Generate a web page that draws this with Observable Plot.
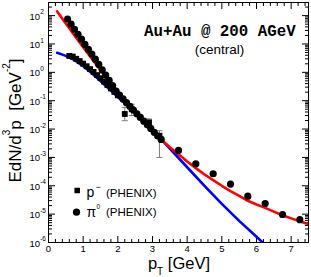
<!DOCTYPE html>
<html><head><meta charset="utf-8">
<script src="https://cdn.jsdelivr.net/npm/d3@7"></script>
<script src="https://cdn.jsdelivr.net/npm/@observablehq/plot@0.6"></script>
<style>
html,body{margin:0;padding:0;background:#fff;}
#wrap{position:relative;width:311px;height:277px;}
</style></head><body><div id="wrap"></div>
<script>
// theory curves
const piCurvePt = [0.25,0.5,0.75,1.0,1.25,1.5,1.75,2.0,2.25,2.5,2.75,3.0,3.25,3.5,3.75,4.0,4.25,4.5,4.75,5.0,5.25,5.5,5.75,6.0,6.25,6.5,6.75,7.0,7.25,7.5];
const piCurveVal = [141,52.5,20,7.6,3.0,1.2,0.50,0.204,0.091,0.042,0.019,0.0089,0.0043,0.0023,0.00129,0.00072,0.00042,0.00025,0.000158,0.0001,6.5e-5,4.4e-5,2.95e-5,2.19e-5,1.66e-5,1.23e-5,9.1e-6,7.1e-6,5.6e-6,4.4e-6];
const pbarCurvePt = [0.25,0.5,0.75,1.0,1.25,1.5,1.75,2.0,2.25,2.5,2.75,3.0,3.25,3.5,4.0,4.5,5.0,5.5,6.0,6.25];
const pbarCurveVal = [4.9,3.8,2.7,1.66,0.93,0.49,0.257,0.135,0.072,0.037,0.0186,0.0091,0.0044,0.00204,0.00045,0.0001,2.3e-5,5.8e-6,1.6e-6,8.3e-7];
// PHENIX pi0
const piPt = [0.55,0.65,0.75,0.85,0.95,1.05,1.15,1.25,1.35,1.45,1.55,1.65,1.75,1.85,1.95,2.05,2.15,2.25,2.35,2.45,2.55,2.65,2.75,2.85,2.95,3.05,3.15,3.25,3.75,4.25,4.75,5.25,5.75,6.25,6.75,7.25];
const piVal = [76,50,33,22,14.8,9.7,6.5,4.4,2.9,1.9,1.22,0.80,0.52,0.34,0.22,0.156,0.115,0.085,0.063,0.047,0.0345,0.0257,0.019,0.0141,0.0105,0.0077,0.0057,0.0043,1.76e-3,5.97e-4,2.65e-4,1.15e-4,4.3e-5,2.37e-5,9.7e-6,6.4e-6];
// PHENIX pbar
const pbarPt = [0.6,0.7,0.8,0.9,1.0,1.1,1.2,1.3,1.4,1.5,1.6,1.7,1.8,1.9,2.0,2.2,2.4,2.9,3.2];
const pbarVal = [3.8,3.6,3.0,2.5,2.03,1.64,1.3,1.03,0.8,0.62,0.47,0.355,0.27,0.205,0.155,0.034,0.05,0.0171,0.0058];
const pbarErrPt = [2.2,2.4,2.9,3.2];
const pbarErrLo = [0.0197,0.03,0.012,0.001];
const pbarErrHi = [0.058,0.075,0.0226,0.0087];
// axes
const xTicks = [0,1,2,3,4,5,6,7];
const yExps = [-6,-5,-4,-3,-2,-1,0,1,2];

const piCurve = piCurvePt.map((p,i)=>({pt:p,v:piCurveVal[i]}));
const pbarCurve = pbarCurvePt.map((p,i)=>({pt:p,v:pbarCurveVal[i]}));
const pi = piPt.map((p,i)=>({pt:p,v:piVal[i]}));
const pbar = pbarPt.map((p,i)=>({pt:p,v:pbarVal[i]}));
const err = pbarErrPt.map((p,i)=>({pt:p,lo:pbarErrLo[i],hi:pbarErrHi[i]}));
const caps = err.flatMap(d=>[{pt:d.pt,v:d.lo},{pt:d.pt,v:d.hi}]);
const xMinor = d3.range(0,7.5001,0.2).map(v=>+v.toFixed(1)).filter(v=>!xTicks.includes(v));
const yMajor = yExps.map(e=>Math.pow(10,e));
const yMinor = [];
yExps.forEach(e=>{for(let k=2;k<=9;k++){const v=k*Math.pow(10,e); if(v<290) yMinor.push(v);}});
const capSymbol = {draw(ctx){ctx.moveTo(-3,0);ctx.lineTo(3,0);}};
const blank = ()=>"";

const svg = Plot.plot({
  width:311, height:277,
  marginLeft:48, marginRight:3, marginTop:2, marginBottom:35,
  x:{domain:[0,7.5]},
  y:{type:"log", domain:[1e-6,290]},
  style:{fontFamily:"'Liberation Sans', Arial, sans-serif", fontSize:"9.5px", color:"#000", background:"#fff", overflow:"visible"},
  marks:[
    Plot.axisX({ticks:xTicks, tickSize:-6, tickFormat:blank, label:null, anchor:"bottom"}),
    Plot.axisX({ticks:xMinor, tickSize:-3, tickFormat:blank, label:null, anchor:"bottom"}),
    Plot.axisX({ticks:xTicks, tickSize:-6, tickFormat:blank, label:null, anchor:"top"}),
    Plot.axisX({ticks:xMinor, tickSize:-3, tickFormat:blank, label:null, anchor:"top"}),
    Plot.axisX({ticks:xTicks, tickSize:0, tickPadding:2.5, label:null, anchor:"bottom", tickFormat:d=>String(d)}),
    Plot.axisY({ticks:yMajor, tickSize:-7, tickFormat:blank, label:null, anchor:"left"}),
    Plot.axisY({ticks:yMinor, tickSize:-4, tickFormat:blank, label:null, anchor:"left"}),
    Plot.axisY({ticks:yMajor, tickSize:-7, tickFormat:blank, label:null, anchor:"right"}),
    Plot.axisY({ticks:yMinor, tickSize:-4, tickFormat:blank, label:null, anchor:"right"}),
    Plot.text(yExps, {y:e=>Math.pow(10,e), text:()=>"10", frameAnchor:"left", dx:-8.5, dy:1, textAnchor:"end", fontSize:9.5}),
    Plot.text(yExps, {y:e=>Math.pow(10,e), text:e=>String(e), frameAnchor:"left", dx:-8.3, dy:-3.5, textAnchor:"start", fontSize:6.5}),
    Plot.line(pbarCurve, {x:"pt", y:"v", stroke:"#0000ff", strokeWidth:2.6, clip:true}),
    Plot.line(piCurve, {x:"pt", y:"v", stroke:"#ff0000", strokeWidth:2.6, clip:true}),
    Plot.ruleX(err, {x:"pt", y1:"lo", y2:"hi", stroke:"#7a7a7a", strokeWidth:1}),
    Plot.dot(caps, {x:"pt", y:"v", symbol:capSymbol, stroke:"#7a7a7a", fill:"none", strokeWidth:1}),
    Plot.dot(pbar, {x:"pt", y:"v", symbol:"square", r:3.3, fill:"#000", stroke:"none"}),
    Plot.dot(pi, {x:"pt", y:"v", symbol:"circle", r:3.6, fill:"#000", stroke:"none"}),
    Plot.dot([0], {frameAnchor:"top-left", dx:28.7, dy:188, symbol:"square", r:3.1, fill:"#000", stroke:"none"}),
    Plot.dot([0], {frameAnchor:"top-left", dx:28, dy:209.7, symbol:"circle", r:3.6, fill:"#000", stroke:"none"}),
    Plot.frame({stroke:"#000", strokeWidth:1})
  ]
});
document.getElementById("wrap").appendChild(svg);

const s = d3.select(svg);
const g = s.append("g").attr("font-family","'Liberation Sans', Arial, sans-serif").attr("fill","#000").attr("text-anchor","start");
g.append("text").attr("x",144).attr("y",35.5).attr("text-anchor","start").attr("font-family","'Liberation Mono', monospace").attr("font-weight","bold").attr("font-size",15.8).text("Au+Au @ 200 AGeV");
g.append("text").attr("x",219.5).attr("y",54).attr("text-anchor","middle").attr("font-size",13.5).text("(central)");
// legend
const lt = (x,y,fs,t)=>g.append("text").attr("x",x).attr("y",y).attr("text-anchor","start").attr("font-size",fs).text(t);
lt(86.5,196.5,14,"p");
lt(95.5,190,9,"\u2212");
lt(106,196.5,11.5,"(PHENIX)");
lt(86.5,216.5,14,"\u03c0");
lt(96.5,208.5,6.5,"0");
lt(106,216,11.5,"(PHENIX)");
// axis titles
const xt = g.append("text").attr("x",210).attr("y",269).attr("text-anchor","end").attr("font-size",16.5);
xt.append("tspan").text("p");
xt.append("tspan").attr("font-size",10).attr("dy",5.5).text("T");
xt.append("tspan").attr("dy",-5.5).text("\u00a0[GeV]");
const yt = g.append("text").attr("transform","translate(20.5,120.5) rotate(-90)").attr("text-anchor","middle").attr("font-size",17);
yt.append("tspan").text("EdN/d");
yt.append("tspan").attr("font-size",10).attr("dy",-11).text("3");
yt.append("tspan").attr("dy",11).text("p\u00a0 [GeV");
yt.append("tspan").attr("font-size",10).attr("dy",-11).text("-2");
yt.append("tspan").attr("dy",11).text("]");
</script></body></html>
